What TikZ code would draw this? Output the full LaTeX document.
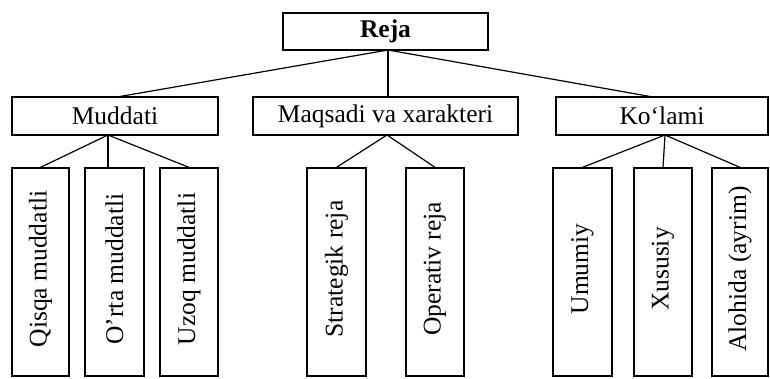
\documentclass[tikz,border=0pt]{standalone}
\usepackage{fontspec}
\setmainfont{Liberation Serif}
\newcommand{\bigtxt}{\fontsize{25.5}{30}\selectfont}
\begin{document}
\begin{tikzpicture}[x=1pt,y=-1pt,
  box/.style={draw,line width=1.3pt,rectangle,inner sep=0pt,font=\bigtxt},
  hbox/.style={box,minimum height=38pt},
  vbox/.style={box,minimum height=208pt,minimum width=58pt},
  vtext/.style={rotate=90,font=\bigtxt,inner sep=0pt},
  link/.style={line width=1.2pt}]
\useasboundingbox (0,0) rectangle (770,378);
\node[hbox,minimum width=205pt,minimum height=37pt,font=\bigtxt\bfseries] (reja) at (385.5,31.5) {Reja};
\node[hbox,minimum width=206pt] (mud) at (115,116) {Muddati};
\node[hbox,minimum width=265pt] (maq) at (385.5,116) {Maqsadi va xarakteri};
\node[hbox,minimum width=212pt] (kol) at (662,116) {Ko‘lami};
\node[vbox,minimum width=57pt] (q) at (40.5,272) {};
\node[vtext] at ([yshift=3pt]q.center) {Qisqa muddatli};
\node[vbox,minimum width=59pt] (o) at (114.5,272) {};
\node[vtext] at ([yshift=3pt]o.center) {O’rta muddatli};
\node[vbox] (u) at (189,272) {};
\node[vtext] at ([yshift=3pt]u.center) {Uzoq muddatli};
\node[vbox,minimum width=59pt] (s) at (336.5,272) {};
\node[vtext] at ([yshift=3pt]s.center) {Strategik reja};
\node[vbox] (op) at (435,272) {};
\node[vtext] at ([yshift=3pt]op.center) {Operativ reja};
\node[vbox,minimum width=59pt] (um) at (582.5,272) {};
\node[vtext] at ([yshift=3pt]um.center) {Umumiy};
\node[vbox] (xu) at (663,272) {};
\node[vtext] at ([yshift=3pt]xu.center) {Xususiy};
\node[vbox,minimum width=56pt] (al) at (740,272) {};
\node[vtext] at ([yshift=3pt]al.center) {Alohida (ayrim)};
\coordinate (rh) at (388,50);
\coordinate (mt) at (117,97);
\coordinate (kt) at (653,97);
\coordinate (mh) at (108,135);
\coordinate (qh) at (387,135);
\coordinate (kh) at (665,135);
\draw[link] (rh) -- (mt);
\draw[link] (rh) -- (rh |- maq.north);
\draw[link] (rh) -- (kt);
\draw[link] (mh) -- (q.north);
\draw[link] (mh) -- (mh |- o.north);
\draw[link] (mh) -- (u.north);
\draw[link] (qh) -- (s.north);
\draw[link] (qh) -- (op.north);
\draw[link] (kh) -- (um.north);
\draw[link] (kh) -- (xu.north);
\draw[link] (kh) -- (al.north);
\end{tikzpicture}
\end{document}
